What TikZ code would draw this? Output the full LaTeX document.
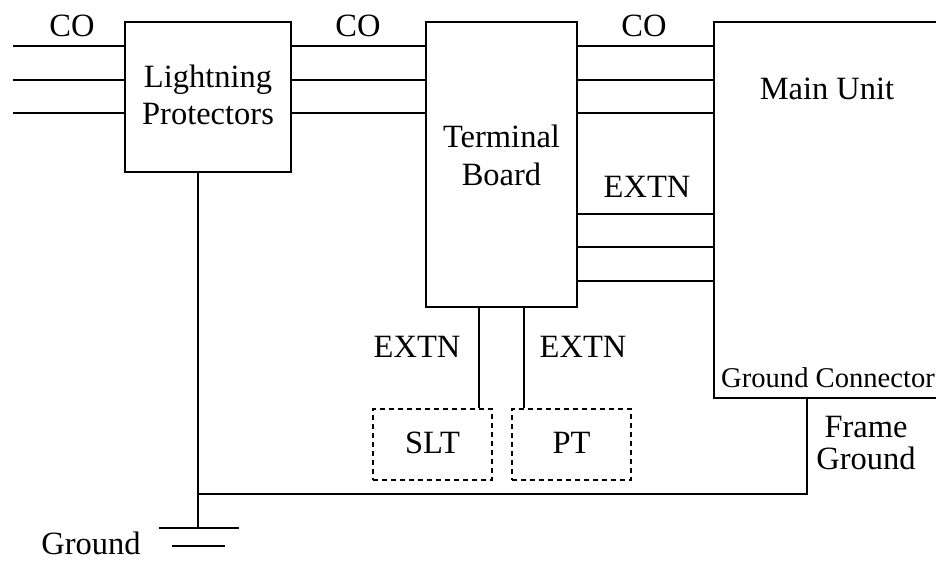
\documentclass[tikz,border=0pt]{standalone}
\usepackage{fontspec}
\setmainfont{Liberation Serif}
\begin{document}
\begin{tikzpicture}[x=1pt,y=-1pt,
  line width=1.3pt,
  box/.style={draw,rectangle,inner sep=0pt,line width=1.3pt},
  dbox/.style={draw,rectangle,inner sep=0pt,line width=1.2pt,dash pattern=on 5pt off 4pt},
  lbl/.style={anchor=base,inner sep=0pt,font=\fontsize{32.5}{37}\selectfont},
  slbl/.style={anchor=base,inner sep=0pt,font=\fontsize{28.6}{32}\selectfont}]
\useasboundingbox (0,0) rectangle (936,562);
% boxes
\node[box,minimum width=166pt,minimum height=150pt] (lp) at (208,97) {};
\node[box,minimum width=151pt,minimum height=285pt] (tb) at (501.5,164.5) {};
\node[box,minimum width=240pt,minimum height=376pt] (mu) at (834,210) {};
\node[dbox,minimum width=119pt,minimum height=71pt] (slt) at (432.5,444.5) {};
\node[dbox,minimum width=119pt,minimum height=71pt] (pt) at (571.5,444.5) {};
% reference coordinates
\coordinate (c1) at (13,46);
\coordinate (c2) at (13,80);
\coordinate (c3) at (13,113);
\coordinate (e1) at (0,214);
\coordinate (e2) at (0,247);
\coordinate (e3) at (0,281);
\coordinate (gx) at (198,0);
\coordinate (fx) at (807,0);
\coordinate (gline) at (0,494);
\coordinate (g1l) at (159,528);
\coordinate (g1r) at (239,528);
\coordinate (g2l) at (172,546);
\coordinate (g2r) at (225,546);
\coordinate (s1) at (479,0);
\coordinate (s2) at (524,0);
% CO lines
\foreach \c in {c1,c2,c3}{
  \draw (\c) -- (lp.west |- \c);
  \draw (lp.east |- \c) -- (tb.west |- \c);
  \draw (tb.east |- \c) -- (mu.west |- \c);
}
% EXTN lines
\foreach \e in {e1,e2,e3}{
  \draw (tb.east |- \e) -- (mu.west |- \e);
}
% extension drops
\draw (tb.south -| s1) -- (slt.north -| s1);
\draw (tb.south -| s2) -- (pt.north -| s2);
% ground wiring
\draw (lp.south -| gx) -- (g1l -| gx);
\draw (gline -| gx) -- (gline -| fx) -- (mu.south -| fx);
\draw (g1l) -- (g1r);
\draw (g2l) -- (g2r);
% labels
\node[lbl] (tco1) at (72,36) {CO};
\node[lbl] (tco2) at (358,36) {CO};
\node[lbl] (tco3) at (644,36) {CO};
\node[lbl] (tlp1) at (208,87) {Lightning};
\node[lbl] (tlp2) at (208,124) {Protectors};
\node[lbl] (ttb1) at (501.5,147) {Terminal};
\node[lbl] (ttb2) at (501.5,185) {Board};
\node[lbl] (tmu) at (827,99) {Main Unit};
\node[lbl] (tex1) at (647,197) {EXTN};
\node[lbl] (tex2) at (417,357) {EXTN};
\node[lbl] (tex3) at (583,357) {EXTN};
\node[lbl] (tslt) at (432.5,453) {SLT};
\node[lbl] (tpt) at (571.5,453) {PT};
\node[slbl] (tgc) at (828,387) {Ground Connector};
\node[lbl] (tfg1) at (866,437) {Frame};
\node[lbl] (tfg2) at (866,469) {Ground};
\node[lbl,text depth=0pt] (tgnd) at (91,554) {Ground};
\end{tikzpicture}
\end{document}
